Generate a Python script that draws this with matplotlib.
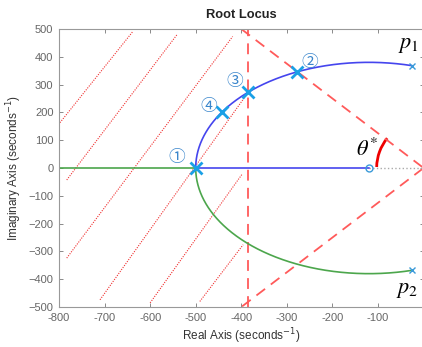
import numpy as np
import matplotlib
matplotlib.use("Agg")
import matplotlib.pyplot as plt
from matplotlib.patches import Arc

# ---- data ----
poles = [complex(-25, 368), complex(-25, -368)]   # p1, p2
zero = -120.0
marked_re = [-500, -277, -385, -443]               # points 1..4
marked_im = [0, 346, 272, 200]
marked_labels = ["①", "②", "③", "④"]
damping_slope = 1.25                               # dashed lines through origin
sigma_line = -385                                  # vertical dashed line
hatch_x0 = [-798, -783, -783, -710, -600, -491]
hatch_y0 = [163, -43, -324, -474, -485, -480]
hatch_x1 = [-638, -540, -419, -385, -399, -396]
hatch_y1 = [491, 482, 473, 272, -24, -276]
x_ticks = list(range(-800, 1, 100))
x_tick_labels = [str(v) for v in range(-800, 0, 100)] + [""]
y_ticks = list(range(-500, 501, 100))

# ---- root locus of (s-p1)(s-p2) + K (s - z) = 0 ----
sp = (poles[0] + poles[1]).real
pp = (poles[0] * poles[1]).real
kb = max(np.roots([1.0, 4 * zero - 2 * sp, sp ** 2 - 4 * pp]).real)
t = np.linspace(1, 0, 600)
K = np.concatenate([kb * (1 - t ** 2), kb + np.geomspace(1e-3, 1e7, 1500)])
blue, green = [], []
for k in K:
    r = np.roots([1.0, -sp + k, pp - k * zero])
    if abs(r[0].imag) > 1e-9:
        r = sorted(r, key=lambda c: -c.imag)
    else:
        r = sorted(r, key=lambda c: -c.real)
    blue.append(r[0])
    green.append(r[1])
blue = np.array(blue)
green = np.array(green)

W, H = 422, 347
fig = plt.figure(figsize=(W / 100, H / 100), dpi=100)
ax = fig.add_axes([59 / W, 1 - 307 / H, 364.6 / W, 278 / H])
ax.set_xlim(-800, 0)
ax.set_ylim(-500, 500)

red = "#FF5A5A"
# hatch lines
for a, b, c, d in zip(hatch_x0, hatch_y0, hatch_x1, hatch_y1):
    ax.plot([a, c], [b, d], linestyle=(0, (1, 1.2)), color="#F03030", lw=0.8)

# dashed constraint lines
ax.axvline(sigma_line, color=red, lw=1.3, ls=(0, (6, 4)))
yy = np.array([500, 0, -500])
ax.plot(-np.abs(yy) / damping_slope, yy, color=red, lw=1.3, ls=(0, (6, 4)))

# real-axis dotted segment
ax.plot([zero, 0], [0, 0], linestyle=":", color="#AAAAAA", lw=1.0)

# locus branches
ax.plot(blue.real, blue.imag, color="#4545EE", lw=1.2)
ax.plot(green.real, green.imag, color="#4CA64C", lw=1.2)

# poles / zero
ax.plot([p.real for p in poles], [p.imag for p in poles], "x",
        color="#3A9AD9", ms=4, mew=1.0)
ax.plot([zero], [0], "o", mfc="none", mec="#3A9AD9", ms=5, mew=1.0)

# highlighted points
ax.plot(marked_re, marked_im, "x", color="#1AA0E6", ms=9, mew=2.0, zorder=5)
label_pos = [(-542, 36), (-249, 380), (-415, 311), (-472, 221)]
for lab, (lx, ly) in zip(marked_labels, label_pos):
    ax.text(lx, ly, lab, color="#3A86CC", fontsize=12, ha="center", va="center",
            family=["Noto Sans CJK JP", "DejaVu Sans"])

# theta* arc
ang = np.degrees(np.arctan(damping_slope))
ax.add_patch(Arc((0, 0), 206, 339, theta1=180 - ang - 2, theta2=178,
                 color="#EE0000", lw=2.0))

plt.rcParams["mathtext.fontset"] = "stix"
ax.text(-34, 443, r"$p_1$", fontsize=16, ha="center", va="center")
ax.text(-35, -440, r"$p_2$", fontsize=16, ha="center", va="center")
ax.text(-125, 71, r"$\theta^{*}$", fontsize=16, ha="center", va="center")

# axes styling
font = "Liberation Sans"
ax.set_xticks(x_ticks)
ax.set_xticklabels(x_tick_labels)
ax.set_yticks(y_ticks)
ax.tick_params(direction="in", length=3, width=0.6, colors="#777777",
               top=True, right=True, labelsize=8, pad=4)
for lbl in ax.get_xticklabels() + ax.get_yticklabels():
    lbl.set_family(font)
    lbl.set_color("#666666")
for s in ax.spines.values():
    s.set_color("#999999")
    s.set_linewidth(0.8)
ax.set_title("Root Locus", fontsize=9.3, fontweight="bold", family=font,
             color="#222222", pad=8)
ax.set_xlabel("Real Axis (seconds$^{-1}$)", fontsize=8.5, family=font,
              color="#333333", labelpad=3)
ax.set_ylabel("Imaginary Axis (seconds$^{-1}$)", fontsize=8.5, family=font,
              color="#333333", labelpad=3)

fig.savefig("out.png", dpi=100)
